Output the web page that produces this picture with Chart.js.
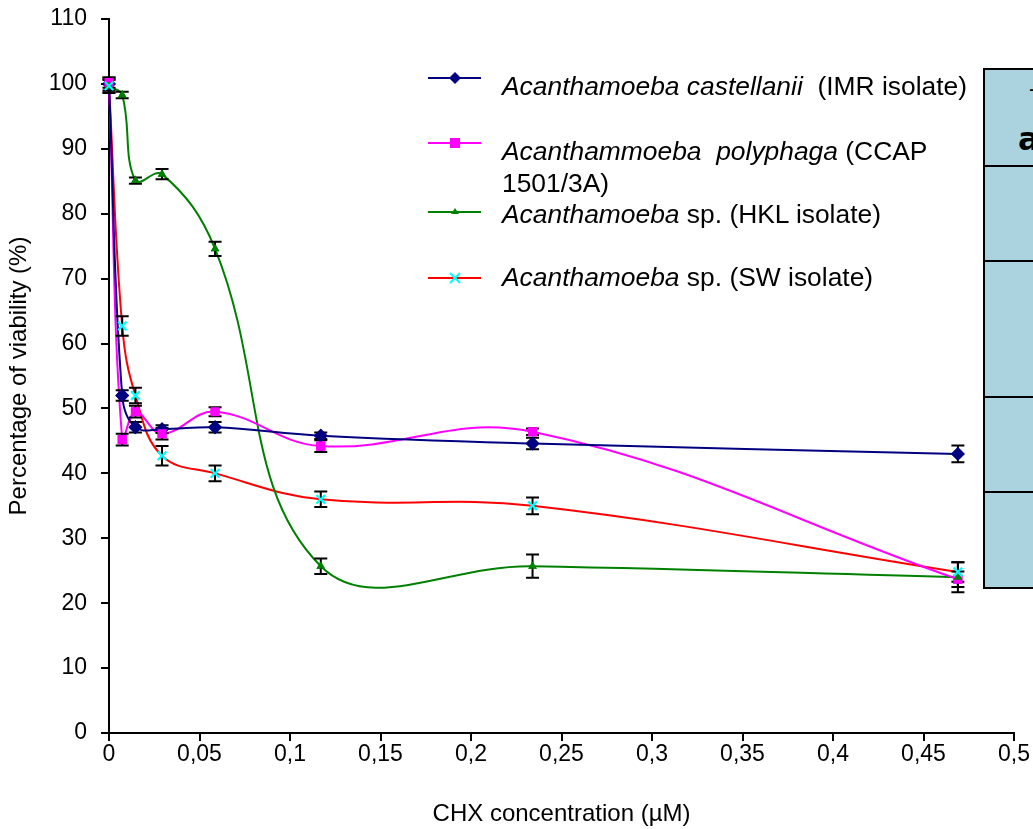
<!DOCTYPE html>
<html>
<head>
<meta charset="utf-8">
<script src="https://cdn.jsdelivr.net/npm/chart.js@4.4.1/dist/chart.umd.min.js"></script>
<style>
  body { margin: 0; overflow: hidden; background: #fff; }
  #wrap { position: relative; width: 1033px; height: 829px; overflow: hidden; font-family: "Liberation Sans", Arial, sans-serif; }
  #wrap canvas { position: absolute; left: 0; top: 0; }
  .leg { position: absolute; left: 428px; }
  .leg svg { position: absolute; left: 0; }
  .legtxt { position: absolute; left: 502px; font-size: 26.4px; line-height: 32px; color: #000; white-space: nowrap; }
  #box { position: absolute; left: 983px; top: 68px; width: 120px; height: 517px; background: #aad3df; border: 2.5px solid #000; }
  .row { position: absolute; left: 0; right: 0; border-top: 2.5px solid #000; }
</style>
</head>
<body>
<div id="wrap">
  <canvas id="lineChart" width="1033" height="829"></canvas>

  <svg class="leg" style="top:68px" width="60" height="20"><line x1="0" y1="10" x2="53" y2="10" stroke="#000080" stroke-width="2"/><polygon points="27,4 33,10 27,16 21,10" fill="#000080"/></svg>
  <div class="legtxt" style="top:70px"><i>Acanthamoeba castellanii</i>&nbsp; (IMR isolate)</div>

  <svg class="leg" style="top:133px" width="60" height="20"><line x1="0" y1="10" x2="53" y2="10" stroke="#ff00ff" stroke-width="2"/><rect x="22" y="5" width="10" height="10" fill="#ff00ff"/></svg>
  <div class="legtxt" style="top:135px"><i>Acanthammoeba&nbsp; polyphaga</i> (CCAP<br>1501/3A)</div>

  <svg class="leg" style="top:202px" width="60" height="20"><line x1="0" y1="10" x2="53" y2="10" stroke="#008000" stroke-width="2"/><polygon points="27,6 31,12 23,12" fill="#008000"/></svg>
  <div class="legtxt" style="top:198px"><i>Acanthamoeba</i> sp. (HKL isolate)</div>

  <svg class="leg" style="top:268px" width="60" height="20"><line x1="0" y1="10" x2="53" y2="10" stroke="#ff0000" stroke-width="2"/><path d="M22,5 L32,15 M32,5 L22,15" stroke="#00ffff" stroke-width="2"/></svg>
  <div class="legtxt" style="top:261px"><i>Acanthamoeba</i> sp. (SW isolate)</div>

  <div id="box">
    <div style="position:absolute; left:44px; top:6px; font-size:22px;">-</div>
    <div style="position:absolute; left:33px; top:50px; font: bold 32px 'DejaVu Sans', sans-serif;">a</div>
    <div class="row" style="top:95px"></div>
    <div class="row" style="top:190px"></div>
    <div class="row" style="top:326px"></div>
    <div class="row" style="top:421px"></div>
  </div>
</div>

<script>
// CHX concentrations (uM)
var concentrations = [0, 0.0073, 0.0146, 0.0293, 0.0586, 0.117, 0.234, 0.469];

// viability (%) per isolate
var imrValues = [100, 52, 47.1, 46.8, 47.1, 45.8, 44.6, 43.0];
var ccapValues = [100.2, 45.2, 49.5, 46.1, 49.5, 44.2, 46.4, 23.7];
var hklValues = [99.6, 98.3, 85.1, 86.1, 74.6, 25.7, 25.7, 24.0];
var swValues = [99.7, 62.7, 52.0, 42.7, 40.0, 36.0, 35.0, 24.8];

// error (+/-)
var imrErr = [1.0, 0.8, 0.8, 0.6, 0.8, 0.5, 0.9, 1.3];
var ccapErr = [0.8, 0.9, 0.9, 0.9, 0.7, 0.9, 0.5, 1.2];
var hklErr = [1.0, 0.5, 0.5, 0.8, 1.1, 1.2, 1.8, 2.3];
var swErr = [1.0, 1.5, 1.2, 1.5, 1.2, 1.2, 1.3, 1.5];

var yTicks = [0, 10, 20, 30, 40, 50, 60, 70, 80, 90, 100, 110];

function points(vals) {
    return concentrations.map(function (c, i) { return { x: c, y: vals[i] }; });
}

var errorBars = {
    id: 'errorBars',
    afterDatasetsDraw: function (chart) {
        var ctx = chart.ctx;
        var yScale = chart.scales.y;
        ctx.save();
        ctx.strokeStyle = '#000';
        ctx.lineWidth = 2;
        chart.data.datasets.forEach(function (ds, di) {
            var meta = chart.getDatasetMeta(di);
            meta.data.forEach(function (pt, i) {
                var e = ds.errors[i];
                var v = ds.data[i].y;
                var top = yScale.getPixelForValue(v + e);
                var bot = yScale.getPixelForValue(v - e);
                ctx.beginPath();
                ctx.moveTo(pt.x, top); ctx.lineTo(pt.x, bot);
                ctx.moveTo(pt.x - 6.5, top); ctx.lineTo(pt.x + 6.5, top);
                ctx.moveTo(pt.x - 6.5, bot); ctx.lineTo(pt.x + 6.5, bot);
                ctx.stroke();
            });
        });
        ctx.restore();
        // markers back on top of the bars
        chart.data.datasets.forEach(function (ds, di) {
            chart.getDatasetMeta(di).data.forEach(function (pt) { pt.draw(chart.ctx, chart.chartArea); });
        });
    }
};

var ctx = document.getElementById('lineChart').getContext('2d');
var myChart = new Chart(ctx, {
    type: 'line',
    data: {
        datasets: [
            {
                label: 'Acanthamoeba castellanii (IMR isolate)',
                data: points(imrValues),
                errors: imrErr,
                borderColor: '#000080',
                backgroundColor: '#000080',
                pointStyle: 'rectRot',
                pointRadius: 5.5,
                borderWidth: 2
            },
            {
                label: 'Acanthammoeba polyphaga (CCAP 1501/3A)',
                data: points(ccapValues),
                errors: ccapErr,
                borderColor: '#ff00ff',
                backgroundColor: '#ff00ff',
                pointStyle: 'rect',
                pointRadius: 5,
                borderWidth: 2
            },
            {
                label: 'Acanthamoeba sp. (HKL isolate)',
                data: points(hklValues),
                errors: hklErr,
                borderColor: '#008000',
                backgroundColor: '#008000',
                pointStyle: 'triangle',
                pointRadius: 3,
                borderWidth: 2
            },
            {
                label: 'Acanthamoeba sp. (SW isolate)',
                data: points(swValues),
                errors: swErr,
                borderColor: '#ff0000',
                backgroundColor: '#00ffff',
                pointBorderColor: '#00ffff',
                pointBorderWidth: 2,
                pointStyle: 'crossRot',
                pointRadius: 6,
                borderWidth: 2
            }
        ]
    },
    options: {
        responsive: false,
        animation: false,
        devicePixelRatio: 1,
        clip: false,
        layout: { padding: { left: 0, top: 19, right: 19, bottom: 0 } },
        plugins: { legend: { display: false }, tooltip: { enabled: false } },
        elements: { line: { tension: 0.4 } },
        scales: {
            x: {
                type: 'linear',
                min: 0,
                max: 0.5,
                afterFit: function (s) { s.height = 96; },
                ticks: {
                    stepSize: 0.05,
                    color: '#000',
                    padding: 0,
                    maxRotation: 0,
                    font: { family: 'Liberation Sans', size: 23 },
                    callback: function (v) { return String(Math.round(v * 100) / 100).replace('.', ','); }
                },
                grid: { drawOnChartArea: false, color: '#000', lineWidth: 2, tickLength: 8 },
                border: { color: '#000', width: 2 },
                title: {
                    display: true,
                    text: 'CHX concentration (\u00b5M)',
                    color: '#000',
                    padding: { top: 0, bottom: 0 },
                    font: { family: 'Liberation Sans', size: 24 }
                }
            },
            y: {
                min: 0,
                max: 110,
                afterFit: function (s) { s.width = 109; s.paddingTop = 0; s.paddingBottom = 0; },
                afterBuildTicks: function (s) { s.ticks = yTicks.map(function (v) { return { value: v }; }); },
                ticks: {
                    color: '#000',
                    padding: 14,
                    font: { family: 'Liberation Sans', size: 23 }
                },
                grid: { drawOnChartArea: false, color: '#000', lineWidth: 2, tickLength: 8 },
                border: { color: '#000', width: 2 },
                title: {
                    display: true,
                    text: 'Percentage of viability (%)',
                    color: '#000',
                    padding: { top: 5, bottom: 4 },
                    font: { family: 'Liberation Sans', size: 24 }
                }
            }
        }
    },
    plugins: [errorBars]
});
</script>
</body>
</html>
